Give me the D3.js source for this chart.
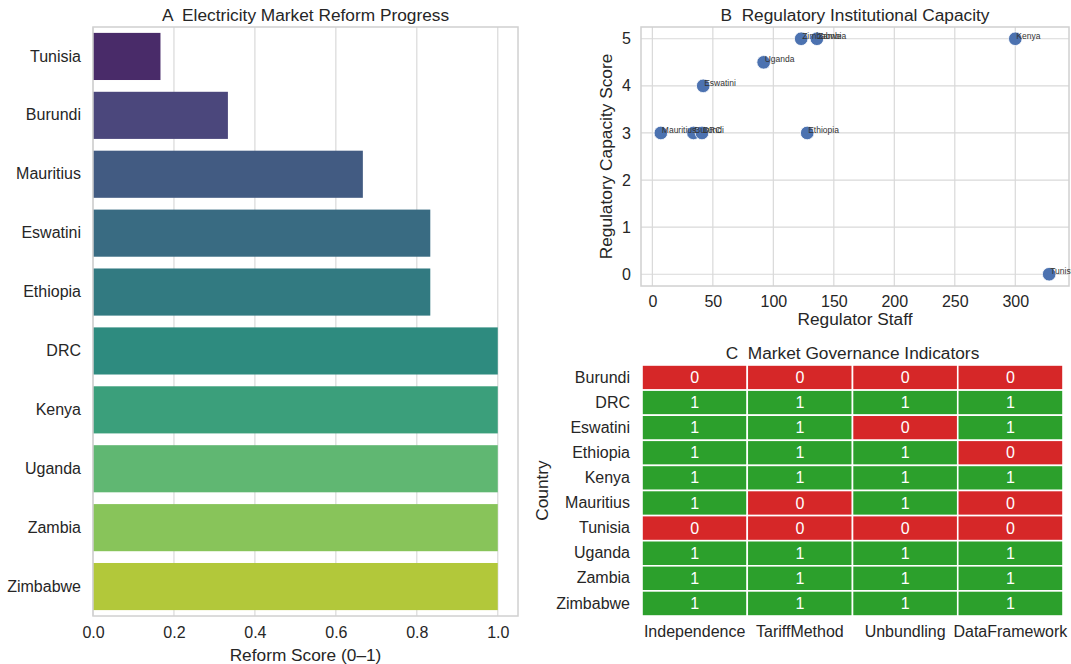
<!DOCTYPE html>
<html>
<head>
<meta charset="utf-8">
<script src="https://cdn.jsdelivr.net/npm/d3@7"></script>
<style>
  html, body { margin: 0; padding: 0; background: #fff; }
  svg { display: block; font-family: "Liberation Sans", Arial, sans-serif; }
  text { white-space: pre; }
</style>
</head>
<body>
<svg id="chart" width="1071" height="664"></svg>
<script>
// ---- Panel A: reform progress ----
const reformCountries = ["Tunisia", "Burundi", "Mauritius", "Eswatini", "Ethiopia", "DRC", "Kenya", "Uganda", "Zambia", "Zimbabwe"];
const reformScores = [0.1667, 0.3333, 0.6667, 0.8333, 0.8333, 1.0, 1.0, 1.0, 1.0, 1.0];
const reformTicks = [0, 0.2, 0.4, 0.6, 0.8, 1.0];

// ---- Panel B: regulator staff vs capacity ----
const capCountries = ["Zimbabwe", "Zambia", "Kenya", "Uganda", "Eswatini", "Mauritius", "Burundi", "DRC", "Ethiopia", "Tunisia"];
const regulatorStaff = [123, 136, 300, 92, 42, 7, 34, 41, 128, 328];
const capacityScore = [5, 5, 5, 4.5, 4, 3, 3, 3, 3, 0];
const staffTicks = [0, 50, 100, 150, 200, 250, 300];
const scoreTicks = [0, 1, 2, 3, 4, 5];

// ---- Panel C: governance indicators ----
const govCountries = ["Burundi", "DRC", "Eswatini", "Ethiopia", "Kenya", "Mauritius", "Tunisia", "Uganda", "Zambia", "Zimbabwe"];
const indicators = ["Independence", "TariffMethod", "Unbundling", "DataFramework"];
const independence  = [0, 1, 1, 1, 1, 1, 0, 1, 1, 1];
const tariffMethod  = [0, 1, 1, 1, 1, 0, 0, 1, 1, 1];
const unbundling    = [0, 1, 0, 1, 1, 1, 0, 1, 1, 1];
const dataFramework = [0, 1, 1, 0, 1, 0, 0, 1, 1, 1];

const svg = d3.select("#chart");
const textColor = "#262626";
const gridColor = "#d9d9d9";
const spineColor = "#d0d0d0";
const tickFont = "16px";
const labelFont = "17.3px";

function desaturate(c, prop) {
  const h = d3.hsl(c);
  h.s *= prop;
  return h.formatHex();
}

function styleTicks(axisG) {
  axisG.select(".domain").remove();
  axisG.selectAll("text").attr("fill", textColor)
    .style("font-size", tickFont).style("font-family", "Liberation Sans, Arial, sans-serif");
}

// ================= Panel A =================
{
  const L = 93, R = 518, T = 27, B = 616;
  const x = d3.scaleLinear().domain([0, 1.05]).range([L, R]);
  const y = d3.scaleBand().domain(reformCountries).range([T, B]).paddingInner(0.2).paddingOuter(0.1);
  const g = svg.append("g");

  g.selectAll("line.grid").data(reformTicks).join("line")
    .attr("x1", d => x(d)).attr("x2", d => x(d))
    .attr("y1", T).attr("y2", B)
    .attr("stroke", gridColor).attr("stroke-width", 1.2);

  const n = reformCountries.length;
  g.selectAll("rect.bar").data(reformCountries).join("rect")
    .attr("x", x(0))
    .attr("y", d => y(d))
    .attr("width", (d, i) => x(reformScores[i]) - x(0))
    .attr("height", y.bandwidth())
    .attr("fill", (d, i) => desaturate(d3.interpolateViridis((i + 1) / (n + 1)), 0.75));

  g.append("rect").attr("x", L).attr("y", T).attr("width", R - L).attr("height", B - T)
    .attr("fill", "none").attr("stroke", spineColor).attr("stroke-width", 1.5);

  styleTicks(g.append("g").attr("transform", `translate(0,${B})`)
    .call(d3.axisBottom(x).tickValues(reformTicks).tickFormat(d3.format(".1f")).tickSize(0).tickPadding(11)));
  styleTicks(g.append("g").attr("transform", `translate(${L},0)`)
    .call(d3.axisLeft(y).tickSize(0).tickPadding(12)));

  g.append("text").attr("x", (L + R) / 2).attr("y", 661).attr("text-anchor", "middle")
    .attr("fill", textColor).style("font-size", labelFont).text("Reform Score (0–1)");
  g.append("text").attr("x", (L + R) / 2).attr("y", 21).attr("text-anchor", "middle")
    .attr("fill", textColor).style("font-size", labelFont).text("A  Electricity Market Reform Progress");
}

// ================= Panel B =================
{
  const L = 641, R = 1069, T = 27, B = 286;
  const x = d3.scaleLinear().domain([-9.4, 344.4]).range([L, R]);
  const y = d3.scaleLinear().domain([-0.25, 5.25]).range([B, T]);
  const g = svg.append("g");

  g.selectAll("line.gx").data(staffTicks).join("line")
    .attr("x1", d => x(d)).attr("x2", d => x(d)).attr("y1", T).attr("y2", B)
    .attr("stroke", gridColor).attr("stroke-width", 1.2);
  g.selectAll("line.gy").data(scoreTicks).join("line")
    .attr("x1", L).attr("x2", R).attr("y1", d => y(d)).attr("y2", d => y(d))
    .attr("stroke", gridColor).attr("stroke-width", 1.2);

  g.append("rect").attr("x", L).attr("y", T).attr("width", R - L).attr("height", B - T)
    .attr("fill", "none").attr("stroke", spineColor).attr("stroke-width", 1.5);

  g.selectAll("circle").data(capCountries).join("circle")
    .attr("cx", (d, i) => x(regulatorStaff[i]))
    .attr("cy", (d, i) => y(capacityScore[i]))
    .attr("r", 6.8)
    .attr("fill", "#4c72b0").attr("stroke", "#fff").attr("stroke-width", 0.8);

  g.selectAll("text.lbl").data(capCountries).join("text")
    .attr("x", (d, i) => x(regulatorStaff[i]) + 1)
    .attr("y", (d, i) => y(capacityScore[i]))
    .attr("fill", "#333").style("font-size", "8.5px").text(d => d);

  styleTicks(g.append("g").attr("transform", `translate(0,${B})`)
    .call(d3.axisBottom(x).tickValues(staffTicks).tickFormat(d3.format("d")).tickSize(0).tickPadding(10)));
  styleTicks(g.append("g").attr("transform", `translate(${L},0)`)
    .call(d3.axisLeft(y).tickValues(scoreTicks).tickFormat(d3.format("d")).tickSize(0).tickPadding(10)));

  g.append("text").attr("x", (L + R) / 2).attr("y", 325).attr("text-anchor", "middle")
    .attr("fill", textColor).style("font-size", labelFont).text("Regulator Staff");
  g.append("text").attr("transform", `translate(612,${(T + B) / 2}) rotate(-90)`).attr("text-anchor", "middle")
    .attr("fill", textColor).style("font-size", labelFont).text("Regulatory Capacity Score");
  g.append("text").attr("x", (L + R) / 2).attr("y", 21).attr("text-anchor", "middle")
    .attr("fill", textColor).style("font-size", labelFont).text("B  Regulatory Institutional Capacity");
}

// ================= Panel C =================
{
  const L = 642, R = 1063, T = 365, B = 616;
  const cols = [independence, tariffMethod, unbundling, dataFramework];
  const x = d3.scaleBand().domain(indicators).range([L, R]);
  const y = d3.scaleBand().domain(govCountries).range([T, B]);
  const color = d3.scaleOrdinal().domain([0, 1]).range(["#d62728", "#2ca02c"]);
  const g = svg.append("g");

  const cells = [];
  govCountries.forEach((c, i) => indicators.forEach((k, j) => cells.push({ c, k, v: cols[j][i] })));

  g.selectAll("rect.cell").data(cells).join("rect")
    .attr("x", d => x(d.k)).attr("y", d => y(d.c))
    .attr("width", x.bandwidth()).attr("height", y.bandwidth())
    .attr("fill", d => color(d.v)).attr("stroke", "#fff").attr("stroke-width", 1.6);

  g.selectAll("text.val").data(cells).join("text")
    .attr("x", d => x(d.k) + x.bandwidth() / 2).attr("y", d => y(d.c) + y.bandwidth() / 2)
    .attr("text-anchor", "middle").attr("dominant-baseline", "central")
    .attr("fill", "#fff").style("font-size", "16px").text(d => d.v);

  styleTicks(g.append("g").attr("transform", `translate(0,${B})`)
    .call(d3.axisBottom(x).tickSize(0).tickPadding(10)));
  styleTicks(g.append("g").attr("transform", `translate(${L},0)`)
    .call(d3.axisLeft(y).tickSize(0).tickPadding(12)));

  g.append("text").attr("transform", `translate(548,${(T + B) / 2}) rotate(-90)`).attr("text-anchor", "middle")
    .attr("fill", textColor).style("font-size", labelFont).text("Country");
  g.append("text").attr("x", (L + R) / 2).attr("y", 359).attr("text-anchor", "middle")
    .attr("fill", textColor).style("font-size", labelFont).text("C  Market Governance Indicators");
}
</script>
</body>
</html>
